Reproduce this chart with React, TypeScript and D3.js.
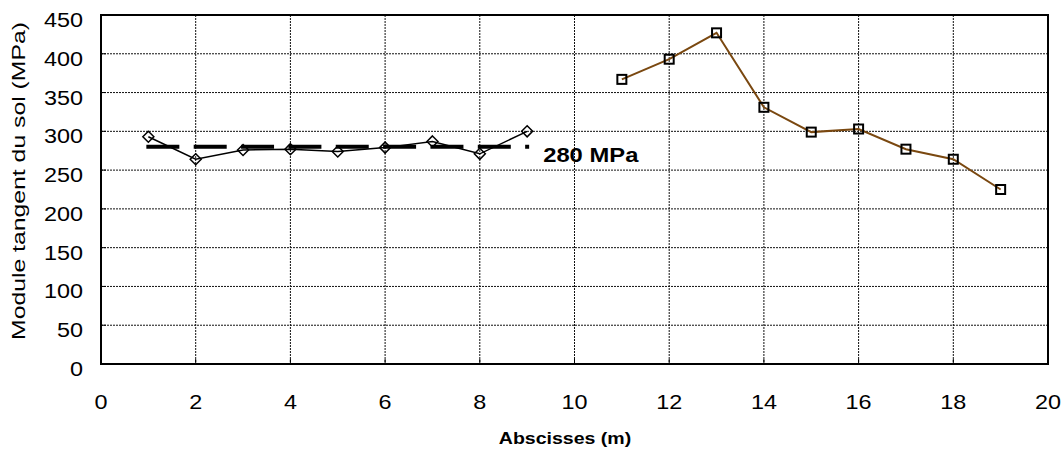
import React from "react";
import * as d3 from "d3";

const W = 1063;
const H = 452;

// Series 1 (diamonds, black)
const xs1 = [1, 2, 3, 4, 5, 6, 7, 8, 9];
const ys1 = [293, 264, 276, 277, 274, 279, 287, 271, 300];

// Series 2 (squares, brown)
const xs2 = [11, 12, 13, 14, 15, 16, 17, 18, 19];
const ys2 = [367, 393, 427, 331, 299, 303, 277, 264, 225];

// Reference line
const refValue = 280;
const refStart = 1;
const refEnd = 9;
const refLabel = "280 MPa";

const xTicks = [0, 2, 4, 6, 8, 10, 12, 14, 16, 18, 20];
const yTicks = [0, 50, 100, 150, 200, 250, 300, 350, 400, 450];

const xTitle = "Abscisses (m)";
const yTitle = "Module tangent du sol (MPa)";

const FONT = "'Liberation Sans', Arial, Helvetica, sans-serif";
const SX = 1.2;

export default function App() {
  const left = 101, right = 1048, top = 15, bottom = 364;
  const x = d3.scaleLinear().domain([0, 20]).range([left, right]);
  const y = d3.scaleLinear().domain([0, 450]).range([bottom, top]);

  const line = d3.line<[number, number]>().x(d => x(d[0])).y(d => y(d[1]));
  const d1 = line(xs1.map((v, i) => [v, ys1[i]] as [number, number])) || "";
  const d2 = line(xs2.map((v, i) => [v, ys2[i]] as [number, number])) || "";

  const period = x(1) - x(0);

  return (
    <svg width={W} height={H} style={{ position: "absolute", left: 0, top: 0, background: "#fff" }}>
      <rect x={0} y={0} width={W} height={H} fill="#fff" />
      {/* grid */}
      {yTicks.filter(t => t !== 0 && t !== 450).map(t => (
        <line key={"gy" + t} x1={left} x2={right} y1={y(t)} y2={y(t)} stroke="#111" strokeWidth={1} strokeDasharray="2 1" />
      ))}
      {xTicks.filter(t => t !== 0 && t !== 20).map(t => (
        <line key={"gx" + t} x1={x(t)} x2={x(t)} y1={top} y2={bottom} stroke="#111" strokeWidth={1} strokeDasharray="2 1" />
      ))}
      {/* inner ticks */}
      {yTicks.map(t => (
        <line key={"ty" + t} x1={left} x2={left + 5} y1={y(t)} y2={y(t)} stroke="#000" strokeWidth={1} />
      ))}
      {xTicks.map(t => (
        <line key={"tx" + t} x1={x(t)} x2={x(t)} y1={bottom} y2={bottom - 5} stroke="#000" strokeWidth={1} />
      ))}
      {/* frame */}
      <rect x={left} y={top} width={right - left} height={bottom - top} fill="none" stroke="#000" strokeWidth={2} />

      {/* reference line */}
      <line x1={x(refStart)} x2={x(refEnd)} y1={y(refValue)} y2={y(refValue)} stroke="#000" strokeWidth={4}
        strokeLinecap="square" strokeDasharray={`29 ${period - 29}`} />

      {/* series 1 */}
      <path d={d1} fill="none" stroke="#000" strokeWidth={1.5} />
      {xs1.map((v, i) => {
        const cx = x(v), cy = y(ys1[i]);
        return <path key={"m1" + i} d={`M${cx},${cy - 5.5}L${cx + 5.5},${cy}L${cx},${cy + 5.5}L${cx - 5.5},${cy}Z`} fill="none" stroke="#000" strokeWidth={1.5} />;
      })}

      {/* series 2 */}
      <path d={d2} fill="none" stroke="#7a4810" strokeWidth={2} />
      {xs2.map((v, i) => {
        const cx = x(v), cy = y(ys2[i]);
        return <rect key={"m2" + i} x={cx - 4.5} y={cy - 4.5} width={9} height={9} fill="none" stroke="#000" strokeWidth={2} />;
      })}

      {/* ref label */}
      <g transform={`translate(${x(refEnd) + 16},${y(refValue) + 15}) scale(1.22,1)`}>
        <text x={0} y={0} fontFamily={FONT} fontSize={19.5} fontWeight="bold" fill="#000">{refLabel}</text>
      </g>

      {/* y tick labels */}
      {yTicks.map(t => (
        <g key={"ly" + t} transform={`translate(${left - 18},${y(t) + 12}) scale(${SX},1)`}>
          <text x={0} y={0} textAnchor="end" fontFamily={FONT} fontSize={19.5} fill="#000">{t}</text>
        </g>
      ))}
      {/* x tick labels */}
      {xTicks.map(t => (
        <g key={"lx" + t} transform={`translate(${x(t)},${409}) scale(${SX},1)`}>
          <text x={0} y={0} textAnchor="middle" fontFamily={FONT} fontSize={19.5} fill="#000">{t}</text>
        </g>
      ))}

      {/* titles */}
      <g transform={`translate(565,444) scale(1.15,1)`}>
        <text x={0} y={0} textAnchor="middle" fontFamily={FONT} fontSize={17} fontWeight="bold" fill="#000">{xTitle}</text>
      </g>
      <text transform={`translate(25,181) rotate(-90)`} x={0} y={0} textAnchor="middle" fontFamily={FONT} fontSize={19}
        textLength={318} lengthAdjust="spacingAndGlyphs" fill="#000">{yTitle}</text>
    </svg>
  );
}
